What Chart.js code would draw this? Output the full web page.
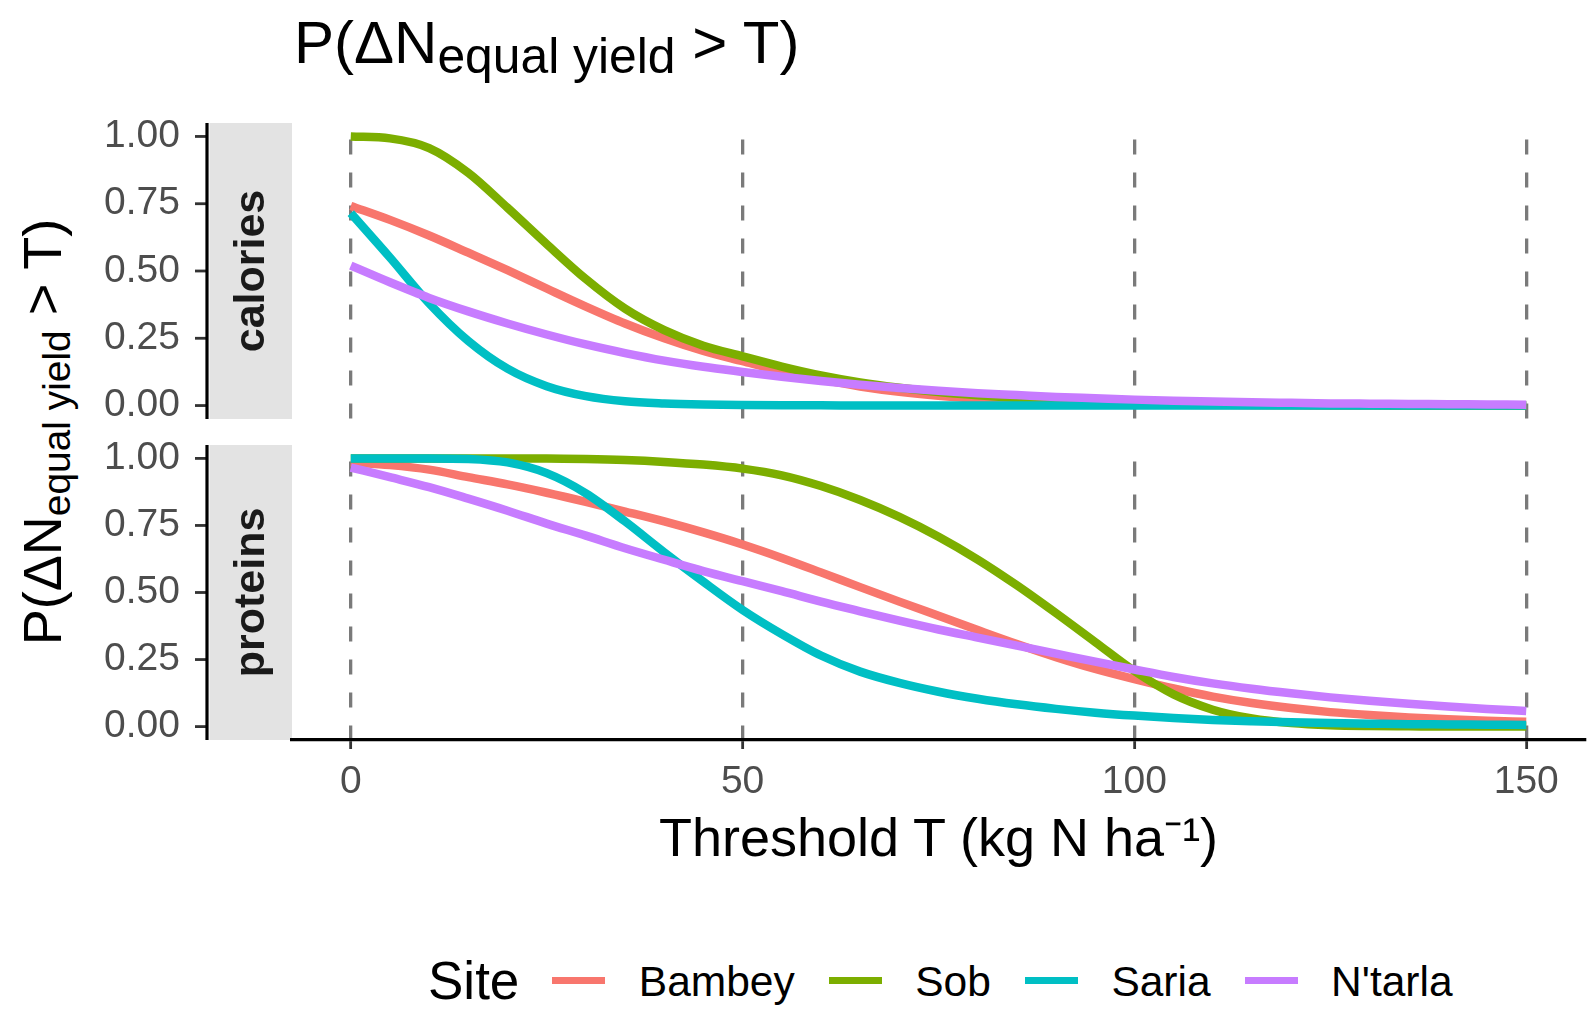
<!DOCTYPE html>
<html>
<head>
<meta charset="utf-8">
<script src="https://cdn.jsdelivr.net/npm/chart.js@4.4.0/dist/chart.umd.min.js"></script>
<style>
  html, body { margin: 0; padding: 0; background: #fff; }
  body { width: 1589px; height: 1010px; position: relative; overflow: hidden;
         font-family: "Liberation Sans", Arial, Helvetica, sans-serif; color: #000; }
  .panel { position: absolute; left: 0; width: 1589px; }
  .txt { position: absolute; line-height: 1; white-space: nowrap; }
  .sub { font-size: 0.72em; position: relative; top: 0.23em; }
  .title .sub { font-size: 0.83em; top: 0.2em; }
  .legend { position: absolute; left: 428px; top: 950px; height: 60px; display: flex; align-items: center; }
  .legend .ttl { font-size: 53px; line-height: 1; margin-right: 33px; }
  .legend .key { width: 53px; height: 7px; margin-right: 33.5px; }
  .legend .lab { font-size: 42.5px; line-height: 1; margin-right: 34px; position: relative; top: 2px; }
</style>
</head>
<body>
<div class="txt title" style="left:294px; top:12.7px; font-size:60px;">P(ΔN<span class="sub">equal yield</span> &gt; T)</div>
<div class="txt" style="left:15.3px; top:781.7px; width:700px; text-align:center; font-size:54px; transform-origin:0 0; transform:rotate(-90deg);">P(ΔN<span class="sub">equal yield</span> &gt; T)</div>
<div class="txt" style="left:292px; top:810.3px; width:1293px; text-align:center; font-size:54px;">Threshold T (kg N ha⁻¹)</div>

<div class="panel" style="top:103px; height:316px;"><canvas id="calChart"></canvas></div>
<div class="panel" style="top:425px; height:385px;"><canvas id="protChart"></canvas></div>

<div class="legend" id="legend"><span class="ttl">Site</span></div>

<script>
// x values (threshold T, kg N/ha)
const thresholds = [0, 5, 10, 15, 20, 25, 30, 35, 40, 45, 50, 55, 60, 65, 70, 75,
  80, 85, 90, 95, 100, 105, 110, 115, 120, 125, 130, 135, 140, 145, 150];
const sites = ["Bambey", "Sob", "Saria", "N'tarla"];
const siteColors = ["#F8766D", "#7CAE00", "#00BFC4", "#C77CFF"];
const xTicks = [0, 50, 100, 150];
const yTicks = [0, 0.25, 0.5, 0.75, 1];

// calories panel
const calBambey = [0.742, 0.69, 0.632, 0.568, 0.503, 0.435, 0.368, 0.305, 0.25, 0.203, 0.165,
  0.128, 0.097, 0.071, 0.051, 0.036, 0.025, 0.017, 0.011, 0.007, 0.005, 0.003, 0.002, 0.001,
  0.001, 0, 0, 0, 0, 0, 0];
const calSob = [1.0, 0.993, 0.957, 0.865, 0.735, 0.6, 0.47, 0.36, 0.28, 0.222, 0.183, 0.145,
  0.112, 0.086, 0.066, 0.05, 0.038, 0.028, 0.02, 0.014, 0.01, 0.007, 0.005, 0.003, 0.002,
  0.001, 0.001, 0, 0, 0, 0];
const calSaria = [0.715, 0.55, 0.38, 0.24, 0.137, 0.072, 0.035, 0.016, 0.008, 0.004, 0.002,
  0.001, 0.001, 0, 0, 0, 0, 0, 0, 0, 0, 0, 0, 0, 0, 0, 0, 0, 0, 0, 0];
const calNtarla = [0.52, 0.458, 0.4, 0.35, 0.305, 0.264, 0.227, 0.195, 0.167, 0.144, 0.125,
  0.107, 0.091, 0.077, 0.065, 0.055, 0.046, 0.039, 0.032, 0.027, 0.022, 0.018, 0.015, 0.012,
  0.01, 0.008, 0.007, 0.006, 0.005, 0.004, 0.003];

// proteins panel
const protBambey = [0.985, 0.975, 0.958, 0.93, 0.903, 0.872, 0.838, 0.802, 0.765, 0.724, 0.679,
  0.629, 0.575, 0.52, 0.466, 0.413, 0.36, 0.308, 0.259, 0.215, 0.177, 0.142, 0.112, 0.088,
  0.069, 0.054, 0.043, 0.034, 0.027, 0.022, 0.018];
const protSob = [1.0, 1.0, 1.0, 1.0, 1.0, 1.0, 0.998, 0.994, 0.987, 0.977, 0.962, 0.937, 0.897,
  0.845, 0.782, 0.708, 0.623, 0.527, 0.423, 0.315, 0.207, 0.12, 0.063, 0.03, 0.013, 0.005,
  0.002, 0.001, 0, 0, 0];
const protSaria = [1.0, 1.0, 1.0, 0.998, 0.985, 0.945, 0.87, 0.765, 0.65, 0.54, 0.435, 0.345,
  0.265, 0.205, 0.163, 0.13, 0.104, 0.083, 0.066, 0.052, 0.041, 0.032, 0.025, 0.02, 0.016,
  0.013, 0.011, 0.009, 0.008, 0.007, 0.006];
const protNtarla = [0.966, 0.93, 0.893, 0.85, 0.805, 0.757, 0.712, 0.665, 0.622, 0.58, 0.542,
  0.505, 0.466, 0.43, 0.395, 0.362, 0.332, 0.302, 0.272, 0.242, 0.213, 0.185, 0.161, 0.141,
  0.124, 0.109, 0.096, 0.085, 0.075, 0.066, 0.058];

const FONT = '"Liberation Sans", Arial, Helvetica, sans-serif';
const AXIS_X = 207;   // left axis line, outside the strip
const STRIP_LEFT = 209.5;

// grey facet strip on the left + y axis line and ticks
const facetStrip = {
  id: "facetStrip",
  beforeDraw(chart, args, opts) {
    const { ctx, chartArea } = chart;
    ctx.save();
    ctx.fillStyle = "#E3E3E3";
    ctx.fillRect(STRIP_LEFT, chartArea.top, chartArea.left - STRIP_LEFT, chartArea.bottom - chartArea.top);
    ctx.translate((STRIP_LEFT + chartArea.left) / 2 + 1, (chartArea.top + chartArea.bottom) / 2);
    ctx.rotate(-Math.PI / 2);
    ctx.font = "bold 43px " + FONT;
    ctx.fillStyle = "#1A1A1A";
    ctx.textAlign = "center";
    ctx.textBaseline = "middle";
    ctx.fillText(opts.label, 0, 0);
    ctx.restore();
  },
  afterDraw(chart) {
    const { ctx, chartArea, scales } = chart;
    ctx.save();
    ctx.strokeStyle = "#333333";
    ctx.lineWidth = 2.8;
    yTicks.forEach(v => {
      const y = scales.y.getPixelForValue(v);
      ctx.beginPath();
      ctx.moveTo(AXIS_X - 12, y);
      ctx.lineTo(AXIS_X, y);
      ctx.stroke();
    });
    ctx.strokeStyle = "#000";
    ctx.lineWidth = 3.2;
    ctx.beginPath();
    ctx.moveTo(AXIS_X, chartArea.top);
    ctx.lineTo(AXIS_X, chartArea.bottom);
    ctx.stroke();
    ctx.restore();
  }
};

function makePanel(id, label, series, showX) {
  return new Chart(document.getElementById(id), {
    type: "line",
    data: {
      datasets: series.map((vals, i) => ({
        label: sites[i],
        data: thresholds.map((t, k) => ({ x: t, y: vals[k] })),
        borderColor: siteColors[i],
        borderWidth: 8.5,
        pointRadius: 0,
        fill: false,
        cubicInterpolationMode: "monotone",
        order: 4 - i
      }))
    },
    options: {
      responsive: true,
      maintainAspectRatio: false,
      animation: false,
      devicePixelRatio: 1,
      layout: { padding: { left: 0, right: 4, top: 20, bottom: 0 } },
      plugins: {
        legend: { display: false },
        tooltip: { enabled: false },
        facetStrip: { label: label }
      },
      scales: {
        x: {
          type: "linear",
          min: -7.5,
          max: 157.5,
          afterBuildTicks: s => { s.ticks = xTicks.map(v => ({ value: v })); },
          afterFit: s => {
            s.height = showX ? 70 : 0;
            s.paddingLeft = 0; s.paddingRight = 0;
          },
          grid: {
            color: "#7A7A7A",
            lineWidth: 3.3,
            drawTicks: showX,
            tickLength: 9,
            tickColor: "#333333",
            tickWidth: 2.8
          },
          border: { display: showX, color: "#000", width: 3.2, dash: [15, 18], dashOffset: 16.6 },
          ticks: {
            display: showX,
            padding: 10,
            color: "#4D4D4D",
            font: { size: 39, family: FONT },
            autoSkip: false,
            maxRotation: 0,
            callback: v => String(v)
          }
        },
        y: {
          type: "linear",
          min: -0.05,
          max: 1.05,
          afterBuildTicks: s => { s.ticks = yTicks.map(v => ({ value: v })); },
          afterFit: s => {
            s.width = 292;
            s.paddingTop = 0; s.paddingBottom = 0;
          },
          grid: { display: false, drawTicks: false },
          border: { display: false },
          ticks: {
            padding: 112,
            color: "#4D4D4D",
            font: { size: 39, family: FONT },
            autoSkip: false,
            callback: v => v.toFixed(2)
          }
        }
      }
    },
    plugins: [facetStrip]
  });
}

makePanel("calChart", "calories", [calBambey, calSob, calSaria, calNtarla], false);
makePanel("protChart", "proteins", [protBambey, protSob, protSaria, protNtarla], true);

// legend built from the same site list
const legend = document.getElementById("legend");
sites.forEach((s, i) => {
  const key = document.createElement("div");
  key.className = "key";
  key.style.background = siteColors[i];
  const lab = document.createElement("span");
  lab.className = "lab";
  lab.textContent = s;
  legend.appendChild(key);
  legend.appendChild(lab);
});
</script>
</body>
</html>
